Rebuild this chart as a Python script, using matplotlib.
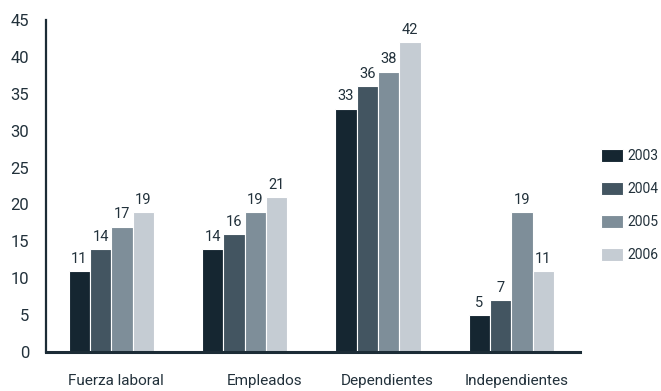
import numpy as np
import matplotlib
matplotlib.use("Agg")
import matplotlib.pyplot as plt

plt.rcParams["font.family"] = ["Roboto", "DejaVu Sans"]

categories = ["Fuerza laboral", "Empleados", "Dependientes", "Independientes"]
years = ["2003", "2004", "2005", "2006"]
v2003 = [11, 14, 33, 5]
v2004 = [14, 16, 36, 7]
v2005 = [17, 19, 38, 19]
v2006 = [19, 21, 42, 11]
yticks = [0, 5, 10, 15, 20, 25, 30, 35, 40, 45]

colors = ["#152631", "#435561", "#7e8e99", "#c5ccd3"]
text_color = "#22313b"
axis_color = "#1c2c36"

fig = plt.figure(figsize=(6.61, 3.91), dpi=100)
ax = fig.add_axes([0.0696, 0.0997, 0.8074, 0.8492])

x = np.arange(len(categories))
width = 0.16
series = [v2003, v2004, v2005, v2006]
for i, (vals, year, col) in enumerate(zip(series, years, colors)):
    pos = x + (i - 1.5) * width
    bars = ax.bar(pos, vals, width, color=col, edgecolor="white",
                  linewidth=0.8, label=year, zorder=2)
    for b, v in zip(bars, vals):
        ax.text(b.get_x() + b.get_width() / 2, v + 0.7, str(v),
                ha="center", va="bottom", fontsize=10.5, color=text_color)

ax.set_xlim(-0.491, 3.514)
ax.set_ylim(0, 45)
ax.set_yticks(yticks)
ax.set_yticklabels([str(t) for t in yticks], fontsize=12, color=text_color)

# category labels sit slightly right of the group centres
label_shift = [0.03, 0.15, 0.07, 0.04]
ax.set_xticks(x + np.array(label_shift))
ax.set_xticklabels(categories, fontsize=11, color=text_color)
ax.tick_params(axis="both", length=0)
ax.tick_params(axis="x", pad=16)
ax.tick_params(axis="y", pad=12)

for side in ["top", "right"]:
    ax.spines[side].set_visible(False)
ax.spines["left"].set_color(axis_color)
ax.spines["left"].set_linewidth(1.6)
ax.spines["bottom"].set_color(axis_color)
ax.spines["bottom"].set_linewidth(2.2)

fig.legend(loc="center left", bbox_to_anchor=(0.909, 0.4744), frameon=False,
           fontsize=10, borderpad=0, borderaxespad=0,
           handlelength=1.58, handleheight=1.08,
           handletextpad=0.36, labelspacing=1.35, labelcolor=text_color)

fig.savefig("out.png", dpi=100)
